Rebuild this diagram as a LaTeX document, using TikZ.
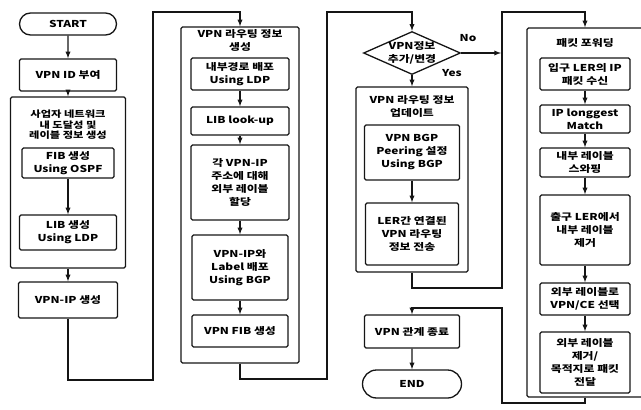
\documentclass[tikz,border=0pt]{standalone}
\usepackage{fontspec}
\setmainfont{Noto Sans CJK KR}[FakeStretch=1.25]
\usetikzlibrary{shapes.geometric,shapes.misc}
\definecolor{ink}{HTML}{151515}
\newcommand{\boxfont}{\fontsize{9.5}{13}\selectfont\bfseries}

\tikzset{
  box/.style={draw=ink, line width=1.3pt, rounded corners=1.5pt, align=center, inner sep=0pt, font=\boxfont},
  grp/.style={draw=ink, line width=1.3pt, rounded corners=1.5pt},
  term/.style={draw=ink, line width=1.3pt, rounded rectangle, align=center, inner sep=0pt, font=\boxfont},
  decision/.style={draw=ink, line width=1.3pt, diamond, aspect=2.3, inner sep=-1pt, align=center, font=\boxfont},
  ttl/.style={align=center, inner sep=0pt, font=\boxfont},
  lbl/.style={inner sep=0pt, font=\boxfont},
  flow/.style={draw=ink, line width=1.3pt, -latex},
}

\begin{document}
\begin{tikzpicture}[x=1pt, y=-1pt]
  \useasboundingbox (0,0) rectangle (641,410);

  % column 1
  \node[term, minimum width=97pt, minimum height=22pt] (start) at (68,24) {START};
  \node[box, minimum width=97pt, minimum height=32pt] (vpnid) at (68,75) {VPN ID 부여};
  \node[grp, minimum width=115pt, minimum height=171pt] (grp1) at (68,182.5) {};
  \node[ttl, font=\fontsize{9}{10.5}\selectfont\bfseries] (grp1t) at (68,125) {사업자 네트워크\\내 도달성 및\\레이블 정보 생성};
  \node[box, minimum width=92pt, minimum height=30pt] (fib) at (68,163) {FIB 생성\\Using OSPF};
  \node[box, minimum width=97pt, minimum height=35pt] (lib) at (68,232.5) {LIB 생성\\Using LDP};
  \node[box, minimum width=99pt, minimum height=36pt] (vpnip) at (68,300) {VPN-IP 생성};

  \draw[flow] (start) -- (vpnid);
  \draw[flow] (vpnid) -- (grp1);
  \draw[flow] (fib) -- (lib);
  \draw[flow] (grp1) -- (vpnip);

  % column 2
  \node[grp, minimum width=118pt, minimum height=336pt] (grp2) at (240,195) {};
  \node[ttl] (grp2t) at (240,40) {VPN 라우팅 정보\\생성};
  \node[box, minimum width=98pt, minimum height=32pt] (ldp) at (240,74) {내부경로 배포\\Using LDP};
  \node[box, minimum width=98pt, minimum height=28pt] (lookup) at (240,121) {LIB look-up};
  \node[box, minimum width=98pt, minimum height=75pt] (assign) at (240,182.5) {각 VPN-IP\\주소에 대해\\외부 레이블\\할당};
  \node[box, minimum width=96pt, minimum height=65pt] (bgp) at (240,267.5) {VPN-IP와\\Label 배포\\Using BGP};
  \node[box, minimum width=96pt, minimum height=32pt] (vfib) at (240,331) {VPN FIB 생성};

  \draw[flow] (ldp) -- (lookup);
  \draw[flow] (lookup) -- (assign);
  \draw[flow] (assign) -- (bgp);
  \draw[flow] (bgp) -- (vfib);

  % column 3
  \node[decision, minimum width=97pt, minimum height=43pt] (dec) at (412,53) {VPN정보\\추가/변경};
  \node[lbl] (nolbl) at (468,38) {No};
  \node[lbl] (yeslbl) at (452,73) {Yes};
  \node[grp, minimum width=112pt, minimum height=185pt] (grp3) at (412,179.5) {};
  \node[ttl] (grp3t) at (412,106.5) {VPN 라우팅 정보\\업데이트};
  \node[box, minimum width=95pt, minimum height=55pt] (peer) at (412,152.5) {VPN BGP\\Peering 설정\\Using BGP};
  \node[box, minimum width=93pt, minimum height=62pt] (lerinfo) at (412,234) {LER간 연결된\\VPN 라우팅\\정보 전송};
  \node[box, minimum width=95pt, minimum height=33pt] (release) at (412,331.5) {VPN 관계 종료};
  \node[term, minimum width=99pt, minimum height=28pt] (stop) at (412,384) {END};

  \draw[flow] (dec) -- (grp3);
  \draw[flow] (peer) -- (lerinfo);
  \draw[flow] (release) -- (stop);

  % column 4
  \node[grp, minimum width=116pt, minimum height=369pt] (grp4) at (585,212.5) {};
  \node[ttl] (grp4t) at (585,43) {패킷 포워딩};
  \node[box, minimum width=90pt, minimum height=32pt] (ingress) at (585,74) {입구 LER의 IP\\패킷 수신};
  \node[box, minimum width=90pt, minimum height=28pt] (match) at (585,119) {IP longgest\\Match};
  \node[box, minimum width=90pt, minimum height=29pt] (swap) at (585,162.5) {내부 레이블\\스와핑};
  \node[box, minimum width=90pt, minimum height=70pt] (egress) at (585,230) {출구 LER에서\\내부 레이블\\제거};
  \node[box, minimum width=90pt, minimum height=32pt] (select) at (585,299) {외부 레이블로\\VPN/CE 선택};
  \node[box, minimum width=90pt, minimum height=61pt] (deliver) at (585,362.5) {외부 레이블\\제거/\\목적지로 패킷\\전달};

  \draw[flow] (ingress) -- (match);
  \draw[flow] (match) -- (swap);
  \draw[flow] (swap) -- (egress);
  \draw[flow] (egress) -- (select);
  \draw[flow] (select) -- (deliver);

  % loops between columns
  \coordinate (l1a) at (153,380);
  \coordinate (l1b) at (153,12);
  \draw[flow] (vpnip.south) |- (l1a) -- (l1b) -| (grp2.north);

  \coordinate (l2a) at (327,379);
  \coordinate (l2b) at (327,12);
  \draw[flow] (grp2.south) |- (l2a) -- (l2b) -| (dec.north);

  \coordinate (l3a) at (502,288);
  \coordinate (l3b) at (502,12);
  \draw[flow] (grp3.south) |- (l3a) -- (l3b) -| (grp4.north);

  \coordinate (nohit) at (501,53);
  \draw[flow] (dec.east) -- (nohit);

  \coordinate (l4a) at (502,403);
  \coordinate (l4b) at (502,308);
  \draw[flow] (grp4.south) |- (l4a) -- (l4b) -| (release.north);
\end{tikzpicture}
\end{document}
